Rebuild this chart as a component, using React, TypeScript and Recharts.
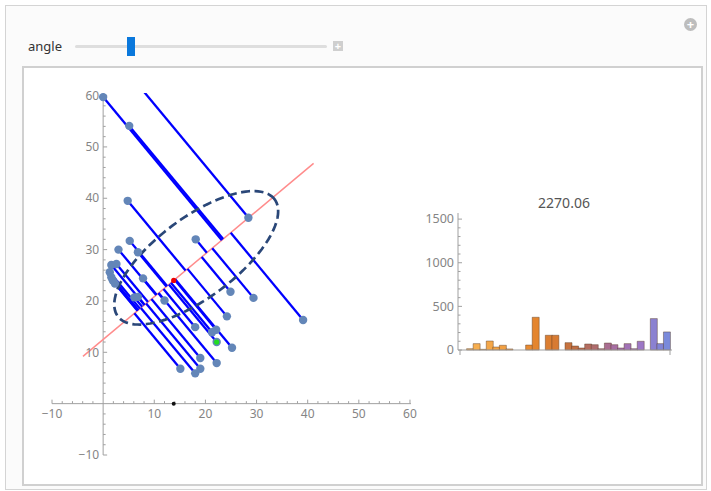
import React from 'react';
import { ScatterChart, Scatter, XAxis, YAxis, ReferenceLine, BarChart, Bar, Cell } from 'recharts';

// ---- data ----
const pointsX = [0, 5.1, 4.8, 5.2, 3.0, 6.8, 1.6, 2.6, 1.3, 1.6, 1.9, 2.3, 7.8, 6.1, 6.8, 12.0, 18.1, 28.4, 24.9, 29.4, 24.2, 18.0, 21.3, 22.1, 22.2, 25.2, 39.1, 22.2, 15.1, 18.0, 19.0, 19.0, 3.6];
const pointsY = [59.7, 54.1, 39.5, 31.7, 30.0, 29.5, 27.0, 27.2, 25.6, 24.6, 24.0, 23.4, 24.4, 20.7, 20.8, 20.1, 32.0, 36.2, 21.8, 20.6, 17.0, 14.9, 13.9, 14.4, 12.0, 10.9, 16.3, 7.9, 6.8, 5.9, 6.8, 8.9, 66.0];
const highlightPoint = { x: 22.2, y: 12.0 };
const meanPoint = { x: 13.8, y: 24.0 };
const axisDot = { x: 13.8, y: 0 };
const angleDeg = 39.8;
const fitLineRange = [-23.1, 35.6];
const ellipseParams = { cx: 18.2, cy: 28.4, a: 19.1, b: 7.8, angle: 36.6 };

const xTickLabels = [-10, 10, 20, 30, 40, 50, 60];
const yTickLabels = [-10, 10, 20, 30, 40, 50, 60];

const histTitle = '2270.06';
const barValues = [0, 15, 73, 8, 103, 34, 54, 12, 0, 0, 57, 375, 0, 169, 169, 0, 84, 46, 23, 69, 61, 15, 80, 61, 23, 73, 15, 100, 0, 360, 73, 207];
const histYTickLabels = [0, 500, 1000, 1500];

// ---- styling ----
const FONT = '"Noto Sans", "Open Sans", sans-serif';
const AXIS = '#a0a0a0';
const LABEL = '#858585';
const X_DOMAIN: [number, number] = [-10, 60.2];
const Y_DOMAIN: [number, number] = [-10, 60.5];

const gradStops: [number, string][] = [
  [0, '#F8B556'], [0.25, '#F09A3C'], [0.35, '#E5852E'], [0.45, '#D77B33'],
  [0.55, '#BF6F45'], [0.65, '#AE6C70'], [0.75, '#A66EA8'], [0.87, '#9C77C6'], [1, '#7A8ADB'],
];
function hex(c: string) { return [1, 3, 5].map(i => parseInt(c.slice(i, i + 2), 16)); }
function gradientColor(t: number) {
  for (let i = 1; i < gradStops.length; i++) {
    if (t <= gradStops[i][0]) {
      const [t0, c0] = gradStops[i - 1];
      const [t1, c1] = gradStops[i];
      const f = (t - t0) / (t1 - t0);
      const a = hex(c0), b = hex(c1);
      const m = a.map((v, k) => Math.round(v + (b[k] - v) * f));
      return `rgb(${m[0]},${m[1]},${m[2]})`;
    }
  }
  return gradStops[gradStops.length - 1][1];
}

function range(a: number, b: number, s: number) {
  const r: number[] = [];
  for (let v = a; v <= b + 1e-9; v += s) r.push(Math.round(v * 100) / 100);
  return r;
}

const fmt = (v: number) => (v < 0 ? '\u2212' + Math.abs(v) : String(v));

export default function App() {
  const rad = (angleDeg * Math.PI) / 180;
  const ux = Math.cos(rad), uy = Math.sin(rad);
  const pts = pointsX.map((x, i) => ({ x, y: pointsY[i] }));
  const inRange = (p: { x: number; y: number }) =>
    p.x >= X_DOMAIN[0] && p.x <= X_DOMAIN[1] && p.y >= Y_DOMAIN[0] && p.y <= Y_DOMAIN[1];
  const segs = pts.map(p => {
    const t = (p.x - meanPoint.x) * ux + (p.y - meanPoint.y) * uy;
    return [p, { x: meanPoint.x + t * ux, y: meanPoint.y + t * uy }];
  });
  const fitLine = fitLineRange.map(t => ({ x: meanPoint.x + t * ux, y: meanPoint.y + t * uy }));

  const er = (ellipseParams.angle * Math.PI) / 180;
  const ellipsePts = range(0, 360, 3).map(d => {
    const th = (d * Math.PI) / 180;
    const ex = ellipseParams.a * Math.cos(th), ey = ellipseParams.b * Math.sin(th);
    return { x: ellipseParams.cx + ex * Math.cos(er) - ey * Math.sin(er), y: ellipseParams.cy + ex * Math.sin(er) + ey * Math.cos(er) };
  });

  const xTicks = range(-10, 60, 2).filter(v => v !== 0).map(v => ({ x: v, y: 0, major: v % 10 === 0 }));
  const yTicks = range(-10, 60, 2).filter(v => v !== 0).map(v => ({ x: 0, y: v, major: v % 10 === 0 }));
  const xLabels = xTickLabels.map(v => ({ x: v, y: 0, label: fmt(v) }));
  const yLabels = yTickLabels.map(v => ({ x: 0, y: v, label: fmt(v) }));

  const histData = barValues.map((v, i) => ({ i, v }));
  const histBW = 210 / barValues.length;

  return (
    <div style={{ position: 'absolute', left: 0, top: 0, width: 711, height: 491, background: '#fff', fontFamily: FONT }}>
      {/* outer manipulate panel */}
      <div style={{ position: 'absolute', left: 5, top: 5, width: 700, height: 483, border: '1px solid #d4d4d4', background: '#fbfbfb' }} />
      {/* circle plus */}
      <div style={{ position: 'absolute', left: 684, top: 18, width: 13, height: 13, borderRadius: 7, background: '#bdbdbd', color: '#fff', fontSize: 13, lineHeight: '13px', textAlign: 'center', fontWeight: 700 }}>+</div>
      {/* slider */}
      <div style={{ position: 'absolute', left: 28, top: 37, fontSize: 13, color: '#333' }}>angle</div>
      <div style={{ position: 'absolute', left: 75, top: 45, width: 252, height: 3, background: '#dedede', borderRadius: 2 }} />
      <div style={{ position: 'absolute', left: 127, top: 37, width: 8, height: 19, background: '#0a78dc' }} />
      <div style={{ position: 'absolute', left: 333, top: 41, width: 10, height: 10, background: '#cfcfcf', color: '#fff', fontSize: 11, lineHeight: '10px', textAlign: 'center', fontWeight: 700 }}>+</div>
      {/* inner pane */}
      <div style={{ position: 'absolute', left: 22, top: 66, width: 677, height: 416, border: '2px solid #d0d0d0', background: '#fff' }} />

      <div style={{ position: 'absolute', left: 0, top: 0 }}>
        <ScatterChart width={440} height={491} margin={{ top: 93, right: 29, bottom: 36, left: 52 }}>
          <XAxis type="number" dataKey="x" domain={X_DOMAIN} hide />
          <YAxis type="number" dataKey="y" domain={Y_DOMAIN} hide />
          <ReferenceLine segment={[{ x: X_DOMAIN[0], y: 0 }, { x: X_DOMAIN[1], y: 0 }]} stroke={AXIS} strokeWidth={1} />
          <ReferenceLine segment={[{ x: 0, y: Y_DOMAIN[0] }, { x: 0, y: Y_DOMAIN[1] }]} stroke={AXIS} strokeWidth={1} />
          <ReferenceLine segment={[fitLine[0], fitLine[1]]} stroke="#ff8c8c" strokeWidth={1.5} ifOverflow="hidden" />
          {segs.map((s, i) => (
            <ReferenceLine key={i} segment={[s[0], s[1]]} stroke="#0000ff" strokeWidth={2.3} ifOverflow="hidden" />
          ))}
          <Scatter data={xTicks} isAnimationActive={false}
            shape={(p: any) => <line x1={p.cx} x2={p.cx} y1={p.cy} y2={p.cy - (p.payload.major ? 4 : 2.5)} stroke={AXIS} strokeWidth={1} />} />
          <Scatter data={yTicks} isAnimationActive={false}
            shape={(p: any) => <line x1={p.cx} x2={p.cx + (p.payload.major ? 4 : 2.5)} y1={p.cy} y2={p.cy} stroke={AXIS} strokeWidth={1} />} />
          <Scatter data={xLabels} isAnimationActive={false}
            shape={(p: any) => <text x={p.cx} y={p.cy + 14.5} textAnchor="middle" fontSize={12} fill={LABEL} fontFamily={FONT}>{p.payload.label}</text>} />
          <Scatter data={yLabels} isAnimationActive={false}
            shape={(p: any) => <text x={p.cx - 4} y={p.cy + 4.2} textAnchor="end" fontSize={12} fill={LABEL} fontFamily={FONT}>{p.payload.label}</text>} />
          <Scatter data={ellipsePts} isAnimationActive={false} lineType="joint"
            line={{ stroke: '#2a4778', strokeWidth: 2.7, strokeDasharray: '9 4.5', fill: 'none' }}
            shape={() => <g />} />
          <Scatter data={pts.filter(inRange)} isAnimationActive={false}
            shape={(p: any) => <circle cx={p.cx} cy={p.cy} r={4.2} fill="#6386b8" />} />
          <Scatter data={[meanPoint]} isAnimationActive={false}
            shape={(p: any) => <circle cx={p.cx} cy={p.cy} r={2.6} fill="#ee0000" />} />
          <Scatter data={[highlightPoint]} isAnimationActive={false}
            shape={(p: any) => <circle cx={p.cx} cy={p.cy} r={2.6} fill="#22dd22" />} />
          <Scatter data={[axisDot]} isAnimationActive={false}
            shape={(p: any) => <circle cx={p.cx} cy={p.cy} r={2} fill="#111" />} />
        </ScatterChart>
      </div>

      {/* histogram */}
      <div style={{ position: 'absolute', left: 464, width: 200, top: 193, textAlign: 'center', fontSize: 14, color: '#555' }}>{histTitle}</div>
      <div style={{ position: 'absolute', left: 400, top: 190 }}>
        <BarChart width={290} height={175} data={histData} margin={{ top: 23, right: 18, bottom: 0, left: 0 }} barCategoryGap={0} barGap={0}>
          <XAxis dataKey="i" type="category" height={15} padding={{ left: 2, right: 2 }} interval={0}
            axisLine={{ stroke: AXIS }} tickLine={false} tickSize={0} tickMargin={0}
            tick={(p: any) => {
              const idx = p.payload.value;
              if (idx === 0) return <line x1={p.x - histBW / 2} x2={p.x - histBW / 2} y1={p.y} y2={p.y + 5} stroke={AXIS} />;
              if (idx === barValues.length - 1) return <line x1={p.x + histBW / 2} x2={p.x + histBW / 2} y1={p.y} y2={p.y + 5} stroke={AXIS} />;
              return <g />;
            }} />
          <YAxis type="number" domain={[0, 1570]} width={58} ticks={range(0, 1500, 100)} interval={0}
            axisLine={{ stroke: AXIS }} tickLine={false} tickSize={0} tickMargin={0}
            tick={(p: any) => {
              const v = p.payload.value;
              const major = histYTickLabels.includes(v);
              return (
                <g>
                  <line x1={p.x} x2={p.x + (major ? 4 : 2.5)} y1={p.y} y2={p.y} stroke={AXIS} />
                  {major && <text x={p.x - 4} y={p.y + 4.3} textAnchor="end" fontSize={12.5} fill={LABEL} fontFamily={FONT}>{v}</text>}
                </g>
              );
            }} />
          <Bar dataKey="v" isAnimationActive={false} stroke="rgba(90,60,40,0.55)" strokeWidth={0.8}>
            {histData.map((d, i) => (
              <Cell key={i} fill={gradientColor(i / (barValues.length - 1))} />
            ))}
          </Bar>
        </BarChart>
      </div>
    </div>
  );
}
